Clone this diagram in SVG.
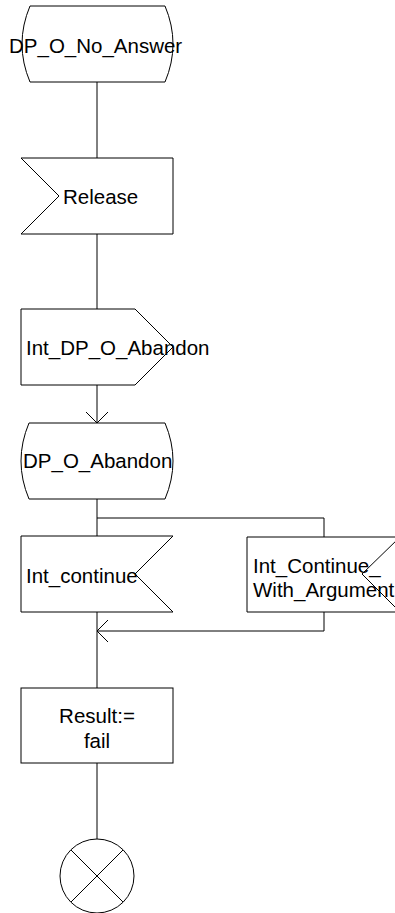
<svg xmlns="http://www.w3.org/2000/svg" width="395" height="913" viewBox="0 0 395 913">
<style>
.s{fill:#fff;stroke:#000;stroke-width:1}
.l{fill:none;stroke:#000;stroke-width:1}
text{font-family:"Liberation Sans",Arial,sans-serif;font-size:20.5px;fill:#000}
</style>
<rect width="395" height="913" fill="#fff"/>
<g id="connectors">
<path class="l" d="M97,82V158"/>
<path class="l" d="M97,234V309"/>
<path class="l" d="M97,385V423"/>
<path class="l" d="M86,412L97,423L108,412"/>
<path class="l" d="M97,499V536"/>
<path class="l" d="M97,518H324V537"/>
<path class="l" d="M324,612V631H97"/>
<path class="l" d="M108,620L97,631L108,642"/>
<path class="l" d="M97,612V688"/>
<path class="l" d="M97,763V839"/>
</g>
<g id="dp_o_no_answer">
<path class="s" d="M30,6H165Q181,44 165,82H30Q14,44 30,6Z"/>
<text x="9" y="53">DP_O_No_Answer</text>
</g>
<g id="release">
<polygon class="s" points="21,158 173,158 173,234 21,234 59,196"/>
<text x="63" y="204">Release</text>
</g>
<g id="int_dp_o_abandon">
<polygon class="s" points="21,309 135,309 173,347 135,385 21,385"/>
<text x="26" y="355">Int_DP_O_Abandon</text>
</g>
<g id="dp_o_abandon">
<path class="s" d="M29,423H165Q181,461 165,499H29Q13,461 29,423Z"/>
<text x="23" y="468">DP_O_Abandon</text>
</g>
<g id="int_continue">
<polygon class="s" points="21,536 173,536 135,574 173,612 21,612"/>
<text x="26" y="583">Int_continue</text>
</g>
<g id="int_continue_with_argument">
<polygon class="s" points="247,537 400,537 362,574 400,612 247,612"/>
<text x="253" y="573">Int_Continue_</text>
<text x="253" y="597">With_Argument</text>
</g>
<g id="result_fail">
<rect class="s" x="21" y="688" width="152" height="75"/>
<text x="97" y="723" text-anchor="middle">Result:=</text>
<text x="97" y="748" text-anchor="middle">fail</text>
</g>
<g id="stop">
<circle class="s" cx="97" cy="876" r="37"/>
<path class="l" d="M71,850L123,902M123,850L71,902"/>
</g>
</svg>
